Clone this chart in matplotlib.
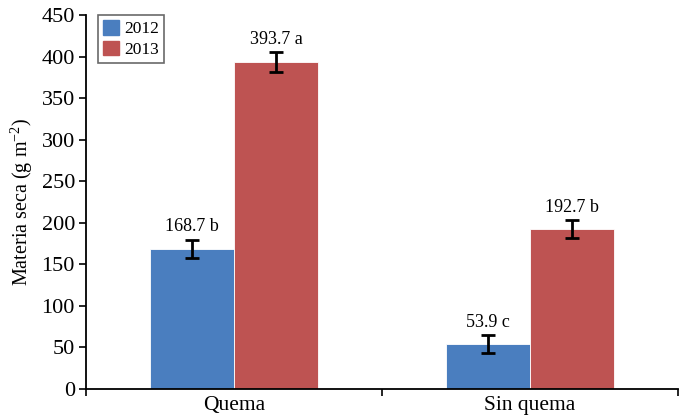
import numpy as np
import matplotlib.pyplot as plt
from matplotlib.patches import Patch

# data
categories = ["Quema", "Sin quema"]
years = ["2012", "2013"]
values_2012 = [168.7, 53.9]
values_2013 = [393.7, 192.7]
err_2012 = [11, 11]
err_2013 = [12, 11]
labels_2012 = ["168.7 b", "53.9 c"]
labels_2013 = ["393.7 a", "192.7 b"]

plt.rcParams['font.family'] = ['Liberation Serif', 'DejaVu Serif']
plt.rcParams['mathtext.fontset'] = 'custom'
plt.rcParams['mathtext.rm'] = 'Liberation Serif'

blue = "#4a7ebf"
red = "#be5352"

fig = plt.figure(figsize=(6.86, 4.17), dpi=100)
ax = fig.add_axes([86/686, 28/417, 592/686, 374/417])

x = np.arange(len(categories))
w = 0.285
ax.bar(x - w/2, values_2012, w, color=blue, edgecolor="white", linewidth=0.6)
ax.bar(x + w/2, values_2013, w, color=red, edgecolor="white", linewidth=0.6)
ax.errorbar(x - w/2, values_2012, yerr=err_2012, fmt="none", ecolor="black",
            elinewidth=2, capsize=5, capthick=2)
ax.errorbar(x + w/2, values_2013, yerr=err_2013, fmt="none", ecolor="black",
            elinewidth=2, capsize=5, capthick=2)

for xi, v, e, lab in zip(x - w/2, values_2012, err_2012, labels_2012):
    ax.text(xi, v + e + 5, lab, ha="center", va="bottom", fontsize=13)
for xi, v, e, lab in zip(x + w/2, values_2013, err_2013, labels_2013):
    ax.text(xi, v + e + 5, lab, ha="center", va="bottom", fontsize=13)

ax.set_xlim(-0.5, 1.5)
ax.set_ylim(0, 450)
ax.set_yticks(np.arange(0, 451, 50))
ax.set_xticks(x)
ax.set_xticklabels(categories, fontsize=15.5)
ax.set_xticks([-0.5, 0.5, 1.5], minor=True)
ax.tick_params(axis="x", which="major", length=0, pad=5)
ax.tick_params(axis="x", which="minor", length=5, width=1.2, direction="out")
ax.tick_params(axis="y", length=5, width=1.2, direction="out", labelsize=16, pad=3)

for s in ["top", "right"]:
    ax.spines[s].set_visible(False)
for s in ["left", "bottom"]:
    ax.spines[s].set_linewidth(1.3)

ax.set_ylabel("Materia seca (g m$^{\\mathrm{-2}}$)", fontsize=14.5, labelpad=5)

handles = [Patch(color=blue), Patch(color=red)]
leg = ax.legend(handles, years, loc="upper left", bbox_to_anchor=(0.02, 1.0),
                borderaxespad=0, fontsize=12.5, frameon=True, fancybox=False,
                handlelength=0.9, handleheight=0.9, handletextpad=0.3,
                borderpad=0.3, labelspacing=0.2)
leg.get_frame().set_edgecolor("#444444")
leg.get_frame().set_linewidth(1.2)

fig.savefig("out.png", dpi=100)
